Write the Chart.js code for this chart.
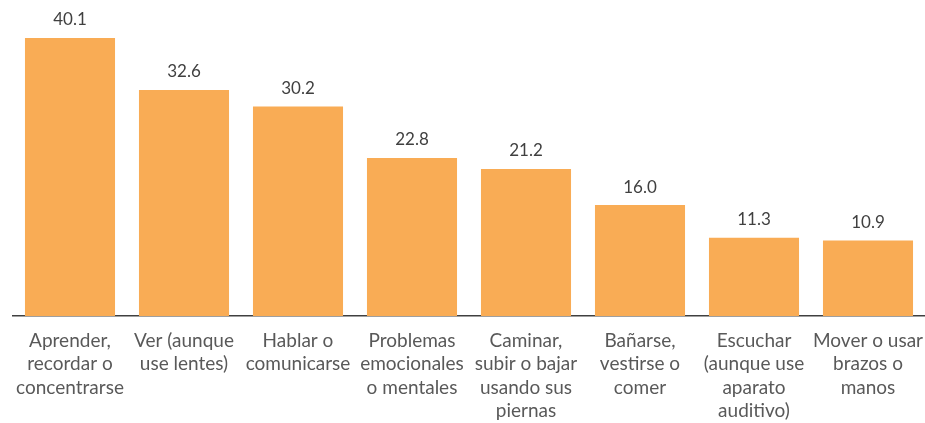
<!DOCTYPE html>
<html>
<head>
<meta charset="utf-8">
<script src="https://cdn.jsdelivr.net/npm/chart.js@4/dist/chart.umd.min.js"></script>
<style>
  html, body { margin: 0; padding: 0; background: #ffffff; }
  #wrap { width: 925px; height: 423px; }
</style>
</head>
<body>
<div id="wrap"><canvas id="c" width="925" height="423"></canvas></div>
<script>
const categories = [
  ["Aprender,", "recordar o", "concentrarse"],
  ["Ver (aunque", "use lentes)"],
  ["Hablar o", "comunicarse"],
  ["Problemas", "emocionales", "o mentales"],
  ["Caminar,", "subir o bajar", "usando sus", "piernas"],
  ["Bañarse,", "vestirse o", "comer"],
  ["Escuchar", "(aunque use", "aparato", "auditivo)"],
  ["Mover o usar", "brazos o", "manos"]
];
const values = [40.1, 32.6, 30.2, 22.8, 21.2, 16.0, 11.3, 10.9];

const valueLabels = {
  id: 'valueLabels',
  afterDatasetsDraw(chart) {
    const ctx = chart.ctx;
    const meta = chart.getDatasetMeta(0);
    ctx.save();
    ctx.font = '17px Lato, "Liberation Sans", sans-serif';
    ctx.fillStyle = '#404040';
    ctx.textAlign = 'center';
    ctx.textBaseline = 'middle';
    meta.data.forEach((bar, i) => {
      const p = bar.getProps(['x', 'y'], true);
      ctx.fillText(values[i].toFixed(1), p.x, p.y - 18);
    });
    ctx.restore();
  }
};

new Chart(document.getElementById('c'), {
  type: 'bar',
  data: {
    labels: categories,
    datasets: [{
      data: values,
      backgroundColor: '#F9AC55',
      borderWidth: 0,
      categoryPercentage: 1.0,
      barPercentage: 0.79
    }]
  },
  options: {
    responsive: false,
    animation: false,
    layout: { padding: { left: 13, right: -4, top: 4, bottom: 0 } },
    plugins: { legend: { display: false }, tooltip: { enabled: false } },
    scales: {
      y: { display: false, min: 0, max: 45 },
      x: {
        grid: { display: false, drawTicks: false },
        border: { display: true, color: '#404040', width: 1.5 },
        ticks: {
          color: '#595959',
          font: { family: 'Lato, "Liberation Sans", sans-serif', size: 19, lineHeight: 1.23 },
          padding: 13,
          maxRotation: 0,
          minRotation: 0,
          autoSkip: false
        },
        afterFit(scale) {
          scale.height = 107;
          scale.paddingLeft = 0;
          scale.paddingRight = 0;
        }
      }
    }
  },
  plugins: [valueLabels]
});
</script>
</body>
</html>
